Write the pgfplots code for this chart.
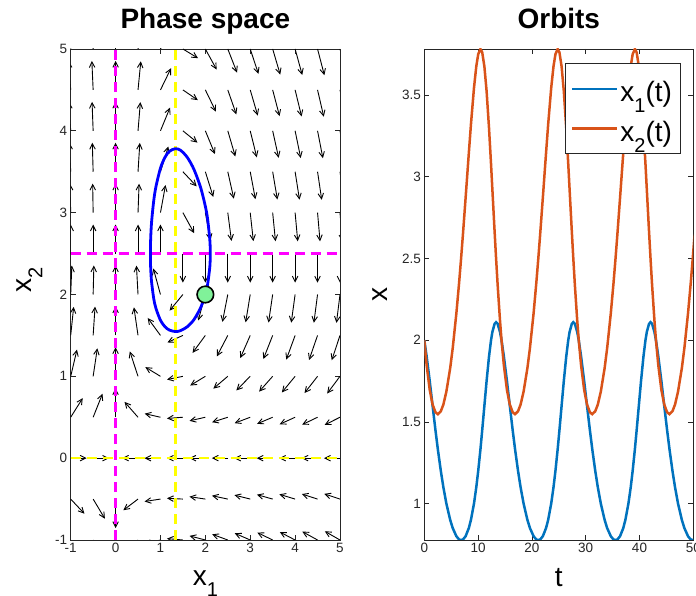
\documentclass[border=0pt]{standalone}
\usepackage{pgfplots}
\pgfplotsset{compat=1.18}
\usepackage{pgfplotstable}
\usepackage{fontspec}
\setmainfont{Liberation Sans}
\usetikzlibrary{arrows.meta}

\definecolor{mblue}{rgb}{0,0.447,0.741}
\definecolor{morange}{rgb}{0.85,0.325,0.098}
\definecolor{dotgreen}{rgb}{0.5,0.95,0.6}
\definecolor{axgray}{rgb}{0.15,0.15,0.15}
\definecolor{mmag}{rgb}{1,0,1}
\definecolor{myel}{rgb}{1,1,0}
\definecolor{mbl}{rgb}{0,0,1}

% subscript as MATLAB draws it: smaller and well below the baseline
\newcommand{\sub}[1]{\raisebox{-0.4em}{\fontsize{20}{20}\selectfont #1}}
% legend rows are taller than the text
\newcommand{\lstrut}{\rule[-13pt]{0pt}{40pt}}

\pgfplotsset{
  mat/.style={
    scale only axis,
    axis line style={axgray, line width=0.7pt},
    tick style={axgray, line width=0.7pt},
    major tick length=5pt,
    tick label style={font=\fontsize{13.5}{15}\selectfont, text=axgray},
    /pgf/number format/assume math mode=true,
    title style={font=\bfseries\fontsize{28}{32}\selectfont,
      at={(axis description cs:0.5,1.0285)}, anchor=base},
    label style={font=\fontsize{28}{32}\selectfont},
  }
}

% time series x1(t), x2(t)
\pgfplotstableread{
t x1 x2
0.000 2.000 2.000
0.440 1.900 1.845
1.007 1.750 1.696
1.534 1.600 1.607
2.070 1.450 1.559
2.513 1.333 1.547
3.070 1.200 1.565
3.545 1.100 1.606
4.102 1.000 1.685
4.812 0.900 1.829
5.281 0.850 1.951
5.960 0.800 2.164
6.466 0.780 2.350
6.838 0.777 2.500
7.188 0.780 2.650
7.679 0.800 2.871
8.278 0.850 3.146
8.669 0.900 3.320
9.235 1.000 3.544
9.664 1.100 3.676
10.022 1.200 3.750
10.438 1.333 3.782
10.768 1.450 3.761
11.172 1.600 3.674
11.579 1.750 3.524
12.030 1.900 3.298
12.405 2.000 3.077
12.652 2.050 2.923
13.067 2.100 2.665
13.343 2.110 2.500
13.629 2.100 2.340
14.070 2.050 2.121
14.353 2.000 2.000
14.793 1.900 1.845
15.360 1.750 1.696
15.887 1.600 1.607
16.423 1.450 1.559
16.866 1.333 1.547
17.423 1.200 1.565
17.898 1.100 1.606
18.455 1.000 1.685
19.165 0.900 1.829
19.634 0.850 1.951
20.313 0.800 2.164
20.819 0.780 2.350
21.191 0.777 2.500
21.541 0.780 2.650
22.032 0.800 2.871
22.631 0.850 3.146
23.022 0.900 3.320
23.588 1.000 3.544
24.017 1.100 3.676
24.375 1.200 3.750
24.791 1.333 3.782
25.121 1.450 3.761
25.525 1.600 3.674
25.932 1.750 3.524
26.383 1.900 3.298
26.758 2.000 3.077
27.005 2.050 2.923
27.420 2.100 2.665
27.696 2.110 2.500
27.982 2.100 2.340
28.423 2.050 2.121
28.706 2.000 2.000
29.146 1.900 1.845
29.713 1.750 1.696
30.240 1.600 1.607
30.776 1.450 1.559
31.219 1.333 1.547
31.776 1.200 1.565
32.251 1.100 1.606
32.808 1.000 1.685
33.518 0.900 1.829
33.987 0.850 1.951
34.666 0.800 2.164
35.172 0.780 2.350
35.544 0.777 2.500
35.894 0.780 2.650
36.385 0.800 2.871
36.984 0.850 3.146
37.375 0.900 3.320
37.941 1.000 3.544
38.370 1.100 3.676
38.728 1.200 3.750
39.144 1.333 3.782
39.474 1.450 3.761
39.878 1.600 3.674
40.285 1.750 3.524
40.736 1.900 3.298
41.111 2.000 3.077
41.358 2.050 2.923
41.773 2.100 2.665
42.049 2.110 2.500
42.335 2.100 2.340
42.776 2.050 2.121
43.059 2.000 2.000
43.499 1.900 1.845
44.066 1.750 1.696
44.593 1.600 1.607
45.129 1.450 1.559
45.572 1.333 1.547
46.129 1.200 1.565
46.604 1.100 1.606
47.161 1.000 1.685
47.871 0.900 1.829
48.340 0.850 1.951
49.019 0.800 2.164
49.525 0.780 2.350
49.897 0.777 2.500
50.247 0.780 2.650
}\orbits

\begin{document}
\begin{tikzpicture}
\path[use as bounding box] (0,0) rectangle (696pt,596pt);

% ---------------- phase space ----------------
\begin{axis}[mat,
  at={(70.7pt,56pt)}, anchor=south west,
  width=269.3pt, height=491pt,
  xmin=-1, xmax=5, ymin=-1, ymax=5,
  xtick={-1,0,...,5}, ytick={-1,0,...,5},
  title={Phase space},
  xlabel={x\sub{1}}, ylabel={x\sub{2}},
  xlabel style={at={(axis description cs:0.5,-0.0917)}, anchor=base},
  ylabel style={at={(axis description cs:-0.153,0.53)}, anchor=center},
]
\addplot[black, line width=0.9pt, -{Straight Barb[length=5.5pt,width=5.5pt]},
  quiver={u={0.355*(\thisrow{u})/veclen(\thisrow{u},\thisrow{v})},
          v={0.355*(\thisrow{v})/veclen(\thisrow{u},\thisrow{v})}}]
table {
x y u v
-1 -1 0.7 -0.7
-0.5 -1 0.35 -0.55
0 -1 0 -0.4
0.5 -1 -0.35 -0.25
1 -1 -0.7 -0.1
1.5 -1 -1.05 0.05
2 -1 -1.4 0.2
2.5 -1 -1.75 0.35
3 -1 -2.1 0.5
3.5 -1 -2.45 0.65
4 -1 -2.8 0.8
4.5 -1 -3.15 0.95
5 -1 -3.5 1.1
-1 -0.5 0.6 -0.35
-0.5 -0.5 0.3 -0.275
0 -0.5 0 -0.2
0.5 -0.5 -0.3 -0.125
1 -0.5 -0.6 -0.05
1.5 -0.5 -0.9 0.025
2 -0.5 -1.2 0.1
2.5 -0.5 -1.5 0.175
3 -0.5 -1.8 0.25
3.5 -0.5 -2.1 0.325
4 -0.5 -2.4 0.4
4.5 -0.5 -2.7 0.475
5 -0.5 -3.0 0.55
-1 0 0.5 0
-0.5 0 0.25 0
0.5 0 -0.25 0
1 0 -0.5 0
1.5 0 -0.75 0
2 0 -1 0
2.5 0 -1.25 0
3 0 -1.5 0
3.5 0 -1.75 0
4 0 -2 0
4.5 0 -2.25 0
5 0 -2.5 0
-1 0.5 0.4 0.35
-0.5 0.5 0.2 0.275
0 0.5 0 0.2
0.5 0.5 -0.2 0.125
1 0.5 -0.4 0.05
1.5 0.5 -0.6 -0.025
2 0.5 -0.8 -0.1
2.5 0.5 -1.0 -0.175
3 0.5 -1.2 -0.25
3.5 0.5 -1.4 -0.325
4 0.5 -1.6 -0.4
4.5 0.5 -1.8 -0.475
5 0.5 -2.0 -0.55
-1 1 0.3 0.7
-0.5 1 0.15 0.55
0 1 0 0.4
0.5 1 -0.15 0.25
1 1 -0.3 0.1
1.5 1 -0.45 -0.05
2 1 -0.6 -0.2
2.5 1 -0.75 -0.35
3 1 -0.9 -0.5
3.5 1 -1.05 -0.65
4 1 -1.2 -0.8
4.5 1 -1.35 -0.95
5 1 -1.5 -1.1
-1 1.5 0.2 1.05
-0.5 1.5 0.1 0.825
0 1.5 0 0.6
0.5 1.5 -0.1 0.375
1 1.5 -0.2 0.15
1.5 1.5 -0.3 -0.075
2 1.5 -0.4 -0.3
2.5 1.5 -0.5 -0.525
3 1.5 -0.6 -0.75
3.5 1.5 -0.7 -0.975
4 1.5 -0.8 -1.2
4.5 1.5 -0.9 -1.425
5 1.5 -1.0 -1.65
-1 2 0.1 1.4
-0.5 2 0.05 1.1
0 2 0 0.8
0.5 2 -0.05 0.5
1 2 -0.1 0.2
1.5 2 -0.15 -0.1
2 2 -0.2 -0.4
2.5 2 -0.25 -0.7
3 2 -0.3 -1.0
3.5 2 -0.35 -1.3
4 2 -0.4 -1.6
4.5 2 -0.45 -1.9
5 2 -0.5 -2.2
-1 2.5 0 1.75
-0.5 2.5 0 1.375
0 2.5 0 1.0
0.5 2.5 0 0.625
1 2.5 0 0.25
1.5 2.5 0 -0.125
2 2.5 0 -0.5
2.5 2.5 0 -0.875
3 2.5 0 -1.25
3.5 2.5 0 -1.625
4 2.5 0 -2.0
4.5 2.5 0 -2.375
5 2.5 0 -2.75
-1 3 -0.1 2.1
-0.5 3 -0.05 1.65
0 3 0 1.2
0.5 3 0.05 0.75
1 3 0.1 0.3
1.5 3 0.15 -0.15
2 3 0.2 -0.6
2.5 3 0.25 -1.05
3 3 0.3 -1.5
3.5 3 0.35 -1.95
4 3 0.4 -2.4
4.5 3 0.45 -2.85
5 3 0.5 -3.3
-1 3.5 -0.2 2.45
-0.5 3.5 -0.1 1.925
0 3.5 0 1.4
0.5 3.5 0.1 0.875
1 3.5 0.2 0.35
1.5 3.5 0.3 -0.175
2 3.5 0.4 -0.7
2.5 3.5 0.5 -1.225
3 3.5 0.6 -1.75
3.5 3.5 0.7 -2.275
4 3.5 0.8 -2.8
4.5 3.5 0.9 -3.325
5 3.5 1.0 -3.85
-1 4 -0.3 2.8
-0.5 4 -0.15 2.2
0 4 0 1.6
0.5 4 0.15 1.0
1 4 0.3 0.4
1.5 4 0.45 -0.2
2 4 0.6 -0.8
2.5 4 0.75 -1.4
3 4 0.9 -2.0
3.5 4 1.05 -2.6
4 4 1.2 -3.2
4.5 4 1.35 -3.8
5 4 1.5 -4.4
-1 4.5 -0.4 3.15
-0.5 4.5 -0.2 2.475
0 4.5 0 1.8
0.5 4.5 0.2 1.125
1 4.5 0.4 0.45
1.5 4.5 0.6 -0.225
2 4.5 0.8 -0.9
2.5 4.5 1.0 -1.575
3 4.5 1.2 -2.25
3.5 4.5 1.4 -2.925
4 4.5 1.6 -3.6
4.5 4.5 1.8 -4.275
5 4.5 2.0 -4.95
-1 5 -0.5 3.5
-0.5 5 -0.25 2.75
0 5 0 2.0
0.5 5 0.25 1.25
1 5 0.5 0.5
1.5 5 0.75 -0.25
2 5 1.0 -1.0
2.5 5 1.25 -1.75
3 5 1.5 -2.5
3.5 5 1.75 -3.25
4 5 2.0 -4.0
4.5 5 2.25 -4.75
5 5 2.5 -5.5
};
% nullclines
\addplot[mmag, line width=2.5pt, dash pattern=on 10pt off 6pt] coordinates {(0,-1) (0,5)};
\addplot[mmag, line width=2.5pt, dash pattern=on 10pt off 6pt] coordinates {(-1,2.5) (5,2.5)};
\addplot[myel, line width=2.5pt, dash pattern=on 10pt off 6pt] coordinates {(1.3333,-1) (1.3333,5)};
\addplot[myel, line width=2.5pt, dash pattern=on 10pt off 6pt] coordinates {(-1,0) (5,0)};
% closed orbit
\addplot[mbl, line width=2.8pt, smooth, line join=round] coordinates {
(2.000,2.000) (1.900,1.845) (1.750,1.696) (1.600,1.607) (1.450,1.559)
(1.333,1.547) (1.200,1.565) (1.100,1.606) (1.000,1.685) (0.900,1.829)
(0.850,1.951) (0.800,2.164) (0.780,2.350) (0.777,2.500) (0.780,2.650)
(0.800,2.871) (0.850,3.146) (0.900,3.320) (1.000,3.544) (1.100,3.676)
(1.200,3.750) (1.333,3.782) (1.450,3.761) (1.600,3.674) (1.750,3.524)
(1.900,3.298) (2.000,3.077) (2.050,2.923) (2.100,2.665) (2.110,2.500)
(2.100,2.340) (2.050,2.121) (2.000,2.000)};
\addplot[only marks, mark=*, mark size=8.3pt,
  mark options={fill=dotgreen, draw=black, line width=1.6pt}] coordinates {(2,2)};
\end{axis}

% ---------------- orbits ----------------
\begin{axis}[mat,
  at={(424.3pt,56pt)}, anchor=south west,
  width=269pt, height=491pt,
  xmin=0, xmax=50, ymin=0.777, ymax=3.782,
  xtick={0,10,...,50}, ytick={1,1.5,2,2.5,3,3.5},
  title={Orbits},
  xlabel={t}, ylabel={x},
  xlabel style={at={(axis description cs:0.5,-0.0957)}, anchor=base},
  ylabel style={at={(axis description cs:-0.165,0.5)}, anchor=center},
  legend style={at={(0.952,0.971)}, anchor=north east,
    font=\fontsize{28}{32}\selectfont, draw=axgray, line width=0.7pt,
    inner xsep=6pt, inner ysep=9pt, row sep=7pt},
  legend cell align=left,
  legend image code/.code={\draw[#1, line width=2.5pt] (0pt,0pt) -- (45pt,0pt);},
]
\addplot[mblue, line width=2.5pt] table[x=t, y=x1] {\orbits};
\addlegendentry{\lstrut x\sub{1}(t)}
\addplot[morange, line width=2.5pt] table[x=t, y=x2] {\orbits};
\addlegendentry{\lstrut x\sub{2}(t)}
\end{axis}
\end{tikzpicture}
\end{document}
